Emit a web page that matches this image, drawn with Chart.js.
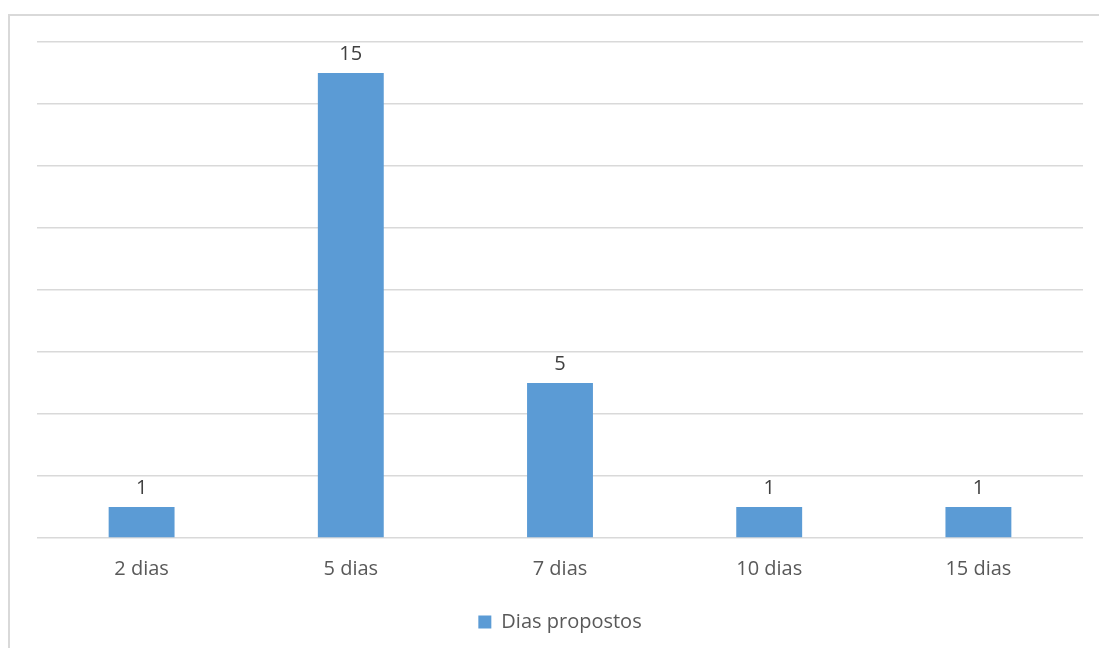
<!DOCTYPE html>
<html>
<head>
<meta charset="utf-8">
<script src="https://cdn.jsdelivr.net/npm/chart.js@4/dist/chart.umd.min.js"></script>
<style>
  html, body { margin: 0; padding: 0; background: #fff; overflow: hidden; }
  #frame { position: absolute; left: 8px; top: 14px; width: 1200px; height: 800px; border: 2px solid #d9d9d9; }
  #wrap { position: absolute; left: 0; top: 0; width: 1099px; height: 648px; }
</style>
</head>
<body>
<div id="frame"></div>
<div id="wrap"><canvas id="myChart"></canvas></div>
<script>
let labels = ['2 dias', '5 dias', '7 dias', '10 dias', '15 dias'];
let values = [1, 15, 5, 1, 1];
let seriesName = 'Dias propostos';

// value labels above each bar
let barValues = {
    id: 'barValues',
    afterDatasetsDraw(chart) {
        let ctx = chart.ctx;
        ctx.save();
        ctx.font = '20px "Open Sans"';
        ctx.fillStyle = '#404040';
        ctx.textAlign = 'center';
        ctx.textBaseline = 'bottom';
        chart.getDatasetMeta(0).data.forEach(function (bar, i) {
            ctx.fillText(values[i], bar.x, bar.y - 9);
        });
        ctx.restore();
    }
};

let myChart = document.getElementById("myChart").getContext('2d');

let chart = new Chart(myChart, {
    type: 'bar',
    data: {
        labels: labels,
        datasets: [{
            label: seriesName,
            data: values,
            backgroundColor: '#5b9bd5',
            categoryPercentage: 1,
            barPercentage: 0.315
        }]
    },
    options: {
        responsive: true,
        maintainAspectRatio: false,
        animation: false,
        layout: {
            padding: { left: 37, right: 16, top: 42, bottom: 6 }
        },
        plugins: {
            legend: {
                position: 'bottom',
                labels: {
                    boxWidth: 13,
                    boxHeight: 13,
                    color: '#595959',
                    font: { family: 'Open Sans', size: 20 },
                    padding: 10
                }
            },
            tooltip: { enabled: false }
        },
        scales: {
            x: {
                grid: { display: false },
                border: { display: false },
                ticks: {
                    color: '#595959',
                    font: { family: 'Open Sans', size: 20 },
                    padding: 11
                },
                // leave some room between the category labels and the legend
                afterFit(scale) {
                    scale.height += 10;
                }
            },
            y: {
                min: 0,
                max: 16,
                ticks: { display: false, stepSize: 2 },
                border: { display: false },
                grid: { color: '#d9d9d9', lineWidth: 1.5, drawTicks: false }
            }
        }
    },
    plugins: [barValues]
});
</script>
</body>
</html>
